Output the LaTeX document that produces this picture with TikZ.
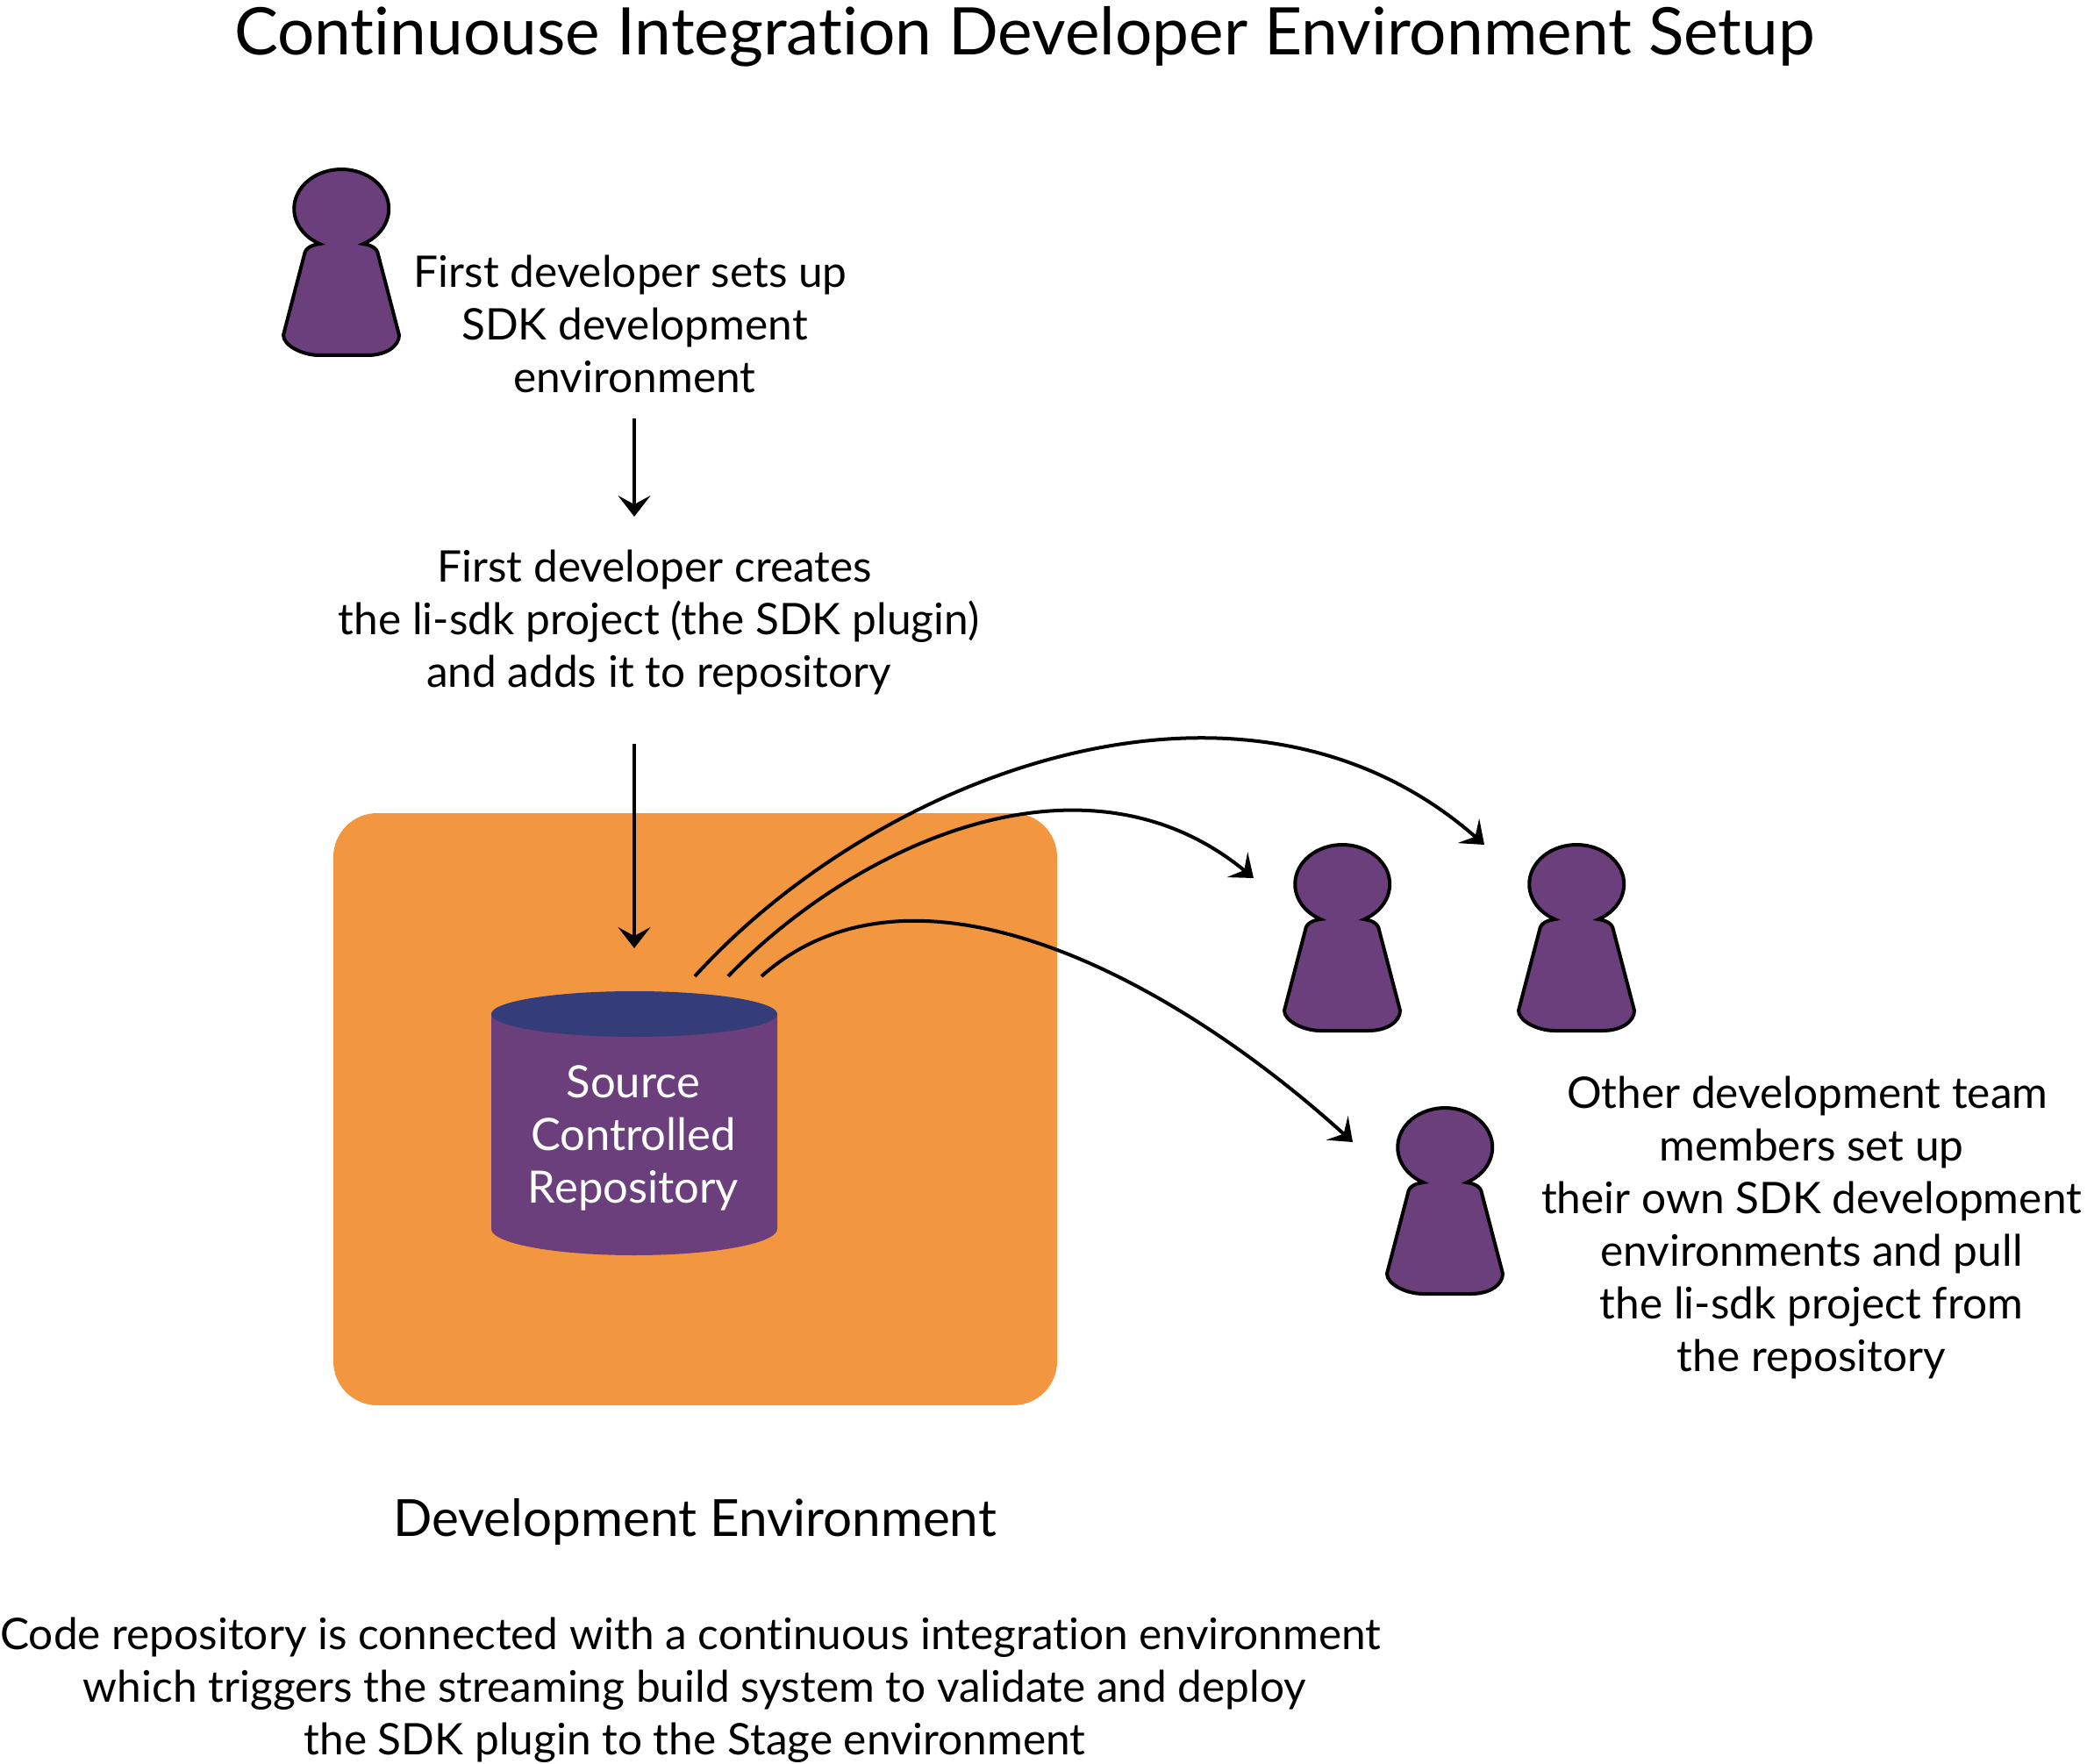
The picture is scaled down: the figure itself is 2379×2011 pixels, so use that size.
\documentclass[tikz,border=0pt]{standalone}
\usepackage{fontspec}
\setmainfont{Lato}[Ligatures=NoCommon]
\usetikzlibrary{arrows.meta}
\definecolor{mypurple}{RGB}{107,62,124}
\definecolor{mynavy}{RGB}{52,61,122}
\definecolor{myorange}{RGB}{243,150,64}
\newcommand{\tsp}{\hspace*{4.8pt}}
\begin{document}
\begin{tikzpicture}[x=0.5pt,y=-0.5pt,
  infotext/.style={align=center,font=\fontsize{24.8}{30}\selectfont,inner sep=0pt},
  toarrow/.style={-{Stealth[length=12pt,width=18.5pt,inset=5pt]},line width=2pt},
  devperson/.pic={
    \path[fill=mypurple,draw=black,line width=2pt]
      (25,40) arc[start angle=62.7,delta angle=-305.4,x radius=54,y radius=45]
      .. controls (-32,41) and (-41,44) .. (-42,52)
      -- (-66,144)
      .. controls (-66,156) and (-44,167) .. (-25,167)
      -- (30,167)
      .. controls (52,167) and (66,156) .. (66,144)
      -- (42,52)
      .. controls (41,44) and (32,41) .. cycle;
  }]

 \useasboundingbox (0,0) rectangle (2379,2011);

 \node[infotext,font=\fontsize{37.4}{44}\selectfont] (title) at (1168,42) {Continuouse Integration Developer Environment Setup};

 % environment box and repository
 \path[fill=myorange,rounded corners=25pt] (380,927) rectangle (1205,1602);
 \path[fill=mypurple] (560,1156) -- (560,1401) arc[start angle=180,end angle=0,x radius=163,y radius=30]
   -- (886,1156) -- cycle;
 \path[fill=mynavy] (723,1156) ellipse[x radius=163,y radius=26];
 \node[infotext,text=white,font=\fontsize{25.4}{30}\selectfont] (repo) at (722,1297) {Source\\Controlled\\Repository};

 % draw the developers
 \pic (dev1) at (389,238) {devperson};
 \pic (dev2) at (1530,1008) {devperson};
 \pic (dev3) at (1797,1008) {devperson};
 \pic (dev4) at (1647,1308) {devperson};

 \node[infotext] (setup) at (723.5,369) {First developer sets up\tsp\\SDK development\\environment};
 \node[infotext] (create) at (751,709) {First developer creates\tsp\\the li-sdk project (the SDK plugin)\\and adds it to repository};
 \node[infotext] (others) at (2065,1399) {Other development team\tsp\\members set up\tsp\\their own SDK development\tsp\\environments and pull\\the li-sdk project from\tsp\\the repository};
 \node[infotext,font=\fontsize{29.2}{34}\selectfont] (devenv) at (792,1735) {Development Environment};
 \node[infotext] (connect) at (792,1927) {Code repository is connected with a continuous integration environment\tsp\\which triggers the streaming build system to validate and deploy\tsp\\the SDK plugin to the Stage environment};

 \coordinate (a1) at (723,477);
 \coordinate (b1) at (723,589);
 \coordinate (a2) at (723,848);
 \coordinate (b2) at (723,1081);
 \coordinate (s1) at (792,1113);
 \coordinate (s2) at (830,1113);
 \coordinate (s3) at (868,1113);
 \coordinate (e1) at (1692,963);
 \coordinate (e2) at (1429,1001);
 \coordinate (e3) at (1542,1302);

 % draw arrows
 \draw[toarrow] (a1) -- (b1);
 \draw[toarrow] (a2) -- (b2);
 \draw[toarrow] (s1) .. controls (1004,880) and (1420,724) .. (e1);
 \draw[toarrow] (s2) .. controls (977,961) and (1237,843) .. (e2);
 \draw[toarrow] (s3) .. controls (1040,960) and (1330,1110) .. (e3);

\end{tikzpicture}
\end{document}
